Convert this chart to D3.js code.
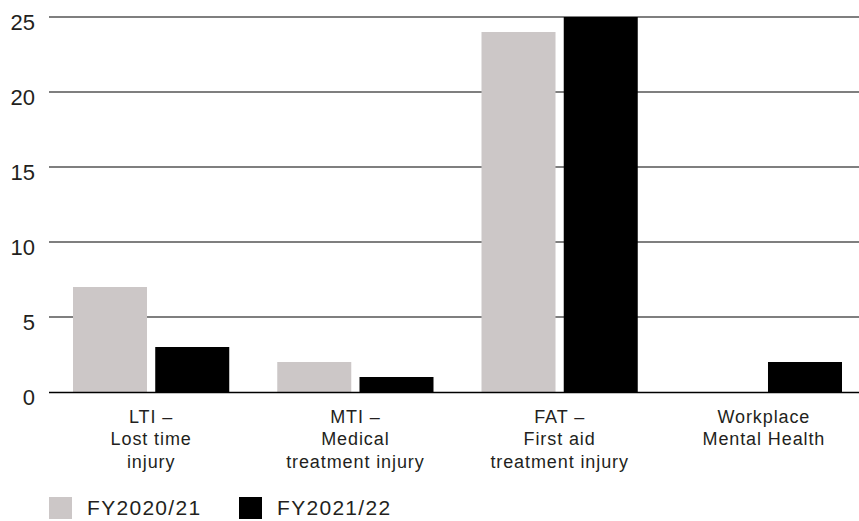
<!DOCTYPE html>
<html>
<head>
<meta charset="utf-8">
<script src="https://cdn.jsdelivr.net/npm/d3@7"></script>
<style>
  html, body { margin: 0; padding: 0; background: #fff; }
  svg { display: block; font-family: "Liberation Sans", Arial, sans-serif; }
</style>
</head>
<body>
<svg id="chart" width="859" height="521"></svg>
<script>
// Injury counts by category, two financial years
const categories = ["LTI", "MTI", "FAT", "WMH"];
const categoryLines = [
  ["LTI –", "Lost time", "injury"],
  ["MTI –", "Medical", "treatment injury"],
  ["FAT –", "First aid", "treatment injury"],
  ["Workplace", "Mental Health"]
];
const seriesNames = ["FY2020/21", "FY2021/22"];
const fy2021 = [7, 2, 24, 0];
const fy2122 = [3, 1, 25, 2];
const yTicks = [0, 5, 10, 15, 20, 25];
const colors = ["#ccc7c7", "#000000"];

const svg = d3.select("#chart");
const textColor = "#231f20";

const y = d3.scaleLinear().domain([0, 25]).range([392, 17]);
const x0 = d3.scaleBand().domain(categories).range([49, 866])
  .paddingInner(0.235).paddingOuter(0.1175);
const x1 = d3.scaleBand().domain(seriesNames).range([0, x0.bandwidth()])
  .paddingInner(0.1);

const seriesValues = [fy2021, fy2122];
const rows = categories.map((c, i) => ({
  cat: c,
  vals: seriesNames.map((s, k) => ({ s, k, v: seriesValues[k][i] }))
}));

// Horizontal grid lines with value labels
const grid = svg.append("g");
grid.selectAll("line").data(yTicks.filter(t => t > 0)).join("line")
  .attr("x1", 49).attr("x2", 859)
  .attr("y1", d => y(d)).attr("y2", d => y(d))
  .attr("stroke", "#000").attr("stroke-width", 1.2);

svg.append("g").selectAll("text").data(yTicks).join("text")
  .attr("x", 35).attr("y", d => y(d) + 13)
  .attr("text-anchor", "end")
  .attr("font-size", 22)
  .attr("fill", textColor)
  .text(d => d);

// Bars
const groups = svg.append("g").selectAll("g").data(rows).join("g")
  .attr("transform", d => `translate(${x0(d.cat)},0)`);
groups.selectAll("rect").data(d => d.vals.filter(e => e.v > 0)).join("rect")
  .attr("x", d => x1(d.s))
  .attr("width", x1.bandwidth())
  .attr("y", d => y(d.v))
  .attr("height", d => y(0) - y(d.v))
  .attr("fill", d => colors[d.k]);

// Baseline
svg.append("line")
  .attr("x1", 49).attr("x2", 859)
  .attr("y1", y(0) + 0.5).attr("y2", y(0) + 0.5)
  .attr("stroke", "#000").attr("stroke-width", 1.6);

// Category labels
const catLabels = svg.append("g").selectAll("text").data(categories).join("text")
  .attr("text-anchor", "middle")
  .attr("font-size", 18)
  .attr("letter-spacing", 0.9)
  .attr("fill", textColor)
  .attr("transform", d => `translate(${x0(d) + x0.bandwidth() / 2},422.5)`);
catLabels.selectAll("tspan").data((d, i) => categoryLines[i]).join("tspan")
  .attr("x", 0).attr("dy", (d, j) => j === 0 ? 0 : 22.5)
  .text(d => d);

// Legend
const legendX = [49, 239];
const legend = svg.append("g").selectAll("g").data(seriesNames).join("g")
  .attr("transform", (d, i) => `translate(${legendX[i]},497)`);
legend.append("rect")
  .attr("width", 23).attr("height", 22)
  .attr("fill", (d, i) => colors[i]);
legend.append("text")
  .attr("x", 38).attr("y", 18)
  .attr("font-size", 21)
  .attr("letter-spacing", 1.3)
  .attr("fill", textColor)
  .text(d => d);
</script>
</body>
</html>
